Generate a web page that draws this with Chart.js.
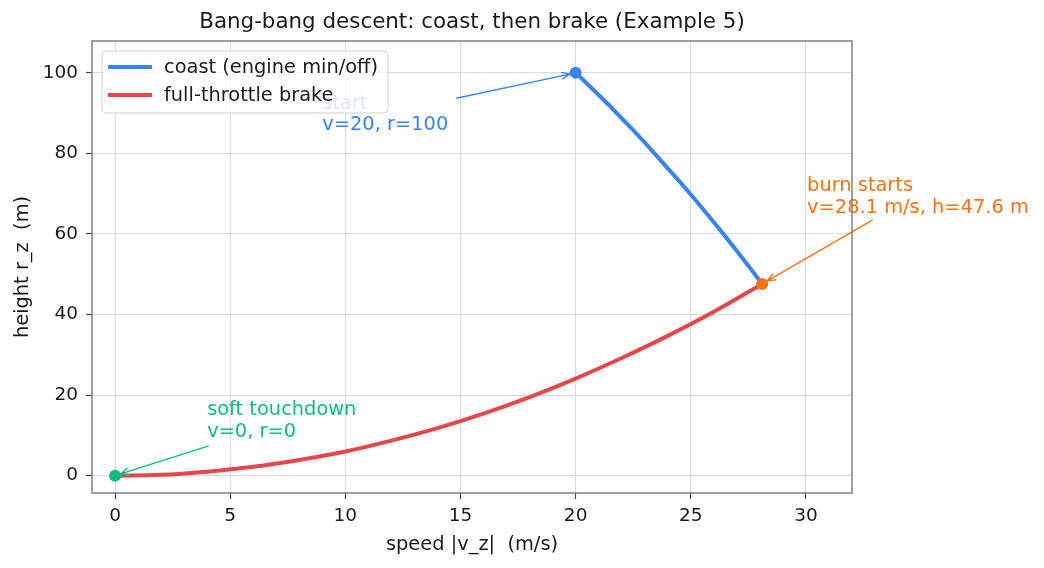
<!DOCTYPE html>
<html>
<head>
<meta charset="utf-8">
<script src="https://cdn.jsdelivr.net/npm/chart.js@4.4.1/dist/chart.umd.min.js"></script>
<style>
html,body{margin:0;padding:0;background:#fff;}
#wrap{width:1044px;height:568px;}
</style>
</head>
<body>
<div id="wrap"><canvas id="c" width="1044" height="568"></canvas></div>
<script>
// ---- data ----
const coastV = [20, 20.5, 21, 21.5, 22, 22.5, 23, 23.5, 24, 24.5, 25, 25.5, 26, 26.5, 27, 27.5, 28.1];
const coastR = [100, 97.3, 94.5, 91.7, 88.7, 85.8, 82.7, 79.5, 76.3, 73.1, 69.8, 66.4, 62.9, 59.4, 55.8, 52.1, 47.6];
const brakeV = [0, 2, 4, 6, 8, 10, 12, 14, 16, 18, 20, 22, 24, 26, 28.1];
const brakeR = [0, 0.2, 1.0, 2.2, 3.9, 6.0, 8.7, 11.8, 15.4, 19.5, 24.1, 29.2, 34.7, 40.7, 47.6];
const startPt = [20, 100];
const burnPt = [28.1, 47.6];
const touchPt = [0, 0];
const xTicks = [0, 5, 10, 15, 20, 25, 30];
const yTicks = [0, 20, 40, 60, 80, 100];
const seriesLabels = ['coast (engine min/off)', 'full-throttle brake'];
const titleText = 'Bang-bang descent: coast, then brake (Example 5)';

const BLUE = '#3b82f6', RED = '#e5484a', ORANGE = '#f97316', GREEN = '#10b981';
const FONT = "'DejaVu Sans', sans-serif";

const pts = (xs, ys) => xs.map((x, i) => ({x: x, y: ys[i]}));

// annotations: text anchor (data), arrow tail (data), arrow head target (data)
const annotations = [
  {lines: ['start', 'v=20, r=100'], at: [9, 85.8], from: [14.82, 93.7], to: startPt, color: BLUE},
  {lines: ['burn starts', 'v=28.1 m/s, h=47.6 m'], at: [30.05, 65.3], from: [32.9, 63.5], to: burnPt, color: ORANGE},
  {lines: ['soft touchdown', 'v=0, r=0'], at: [4, 9.7], from: [4.07, 7.4], to: touchPt, color: GREEN}
];

const annotPlugin = {
  id: 'annot',
  afterDatasetsDraw(chart) {
    const {ctx, scales: {x, y}} = chart;
    ctx.save();
    ctx.font = '19.4px ' + FONT;
    annotations.forEach(a => {
      ctx.fillStyle = a.color;
      ctx.textBaseline = 'alphabetic';
      ctx.textAlign = 'left';
      const px = x.getPixelForValue(a.at[0]);
      const py = y.getPixelForValue(a.at[1]);
      const lh = 21.5;
      a.lines.forEach((t, i) => {
        ctx.fillText(t, px, py - (a.lines.length - 1 - i) * lh);
      });
      // arrow
      const x0 = x.getPixelForValue(a.from[0]), y0 = y.getPixelForValue(a.from[1]);
      let x1 = x.getPixelForValue(a.to[0]), y1 = y.getPixelForValue(a.to[1]);
      const dx = x1 - x0, dy = y1 - y0, L = Math.hypot(dx, dy);
      const ux = dx / L, uy = dy / L;
      x1 -= ux * 6; y1 -= uy * 6;
      ctx.strokeStyle = a.color;
      ctx.lineWidth = 1.4;
      ctx.beginPath();
      ctx.moveTo(x0, y0); ctx.lineTo(x1, y1);
      const hl = 9, ang = 0.4;
      const bx = -ux, by = -uy;
      ctx.moveTo(x1 + hl * (bx * Math.cos(ang) - by * Math.sin(ang)), y1 + hl * (bx * Math.sin(ang) + by * Math.cos(ang)));
      ctx.lineTo(x1, y1);
      ctx.lineTo(x1 + hl * (bx * Math.cos(-ang) - by * Math.sin(-ang)), y1 + hl * (bx * Math.sin(-ang) + by * Math.cos(-ang)));
      ctx.stroke();
    });
    ctx.restore();
  },
  afterDraw(chart) {
    const {ctx, chartArea: ca} = chart;
    ctx.save();
    // frame
    ctx.strokeStyle = '#808080';
    ctx.lineWidth = 1.5;
    ctx.strokeRect(ca.left, ca.top, ca.right - ca.left, ca.bottom - ca.top);
    // title
    ctx.fillStyle = '#1a1a1a';
    ctx.font = '21.4px ' + FONT;
    ctx.textAlign = 'center';
    ctx.textBaseline = 'middle';
    ctx.fillText(titleText, (ca.left + ca.right) / 2, 22);
    // legend
    const lx = 102, ly = 51, lw = 286, lhgt = 62, r = 4;
    ctx.beginPath();
    ctx.moveTo(lx + r, ly);
    ctx.arcTo(lx + lw, ly, lx + lw, ly + lhgt, r);
    ctx.arcTo(lx + lw, ly + lhgt, lx, ly + lhgt, r);
    ctx.arcTo(lx, ly + lhgt, lx, ly, r);
    ctx.arcTo(lx, ly, lx + lw, ly, r);
    ctx.closePath();
    ctx.fillStyle = 'rgba(255,255,255,0.8)';
    ctx.fill();
    ctx.strokeStyle = '#d0d0d0';
    ctx.lineWidth = 1;
    ctx.stroke();
    const cols = [BLUE, RED];
    ctx.font = '19.4px ' + FONT;
    ctx.textAlign = 'left';
    ctx.textBaseline = 'middle';
    seriesLabels.forEach((t, i) => {
      const yy = 67 + i * 28;
      ctx.strokeStyle = cols[i];
      ctx.lineWidth = 4;
      ctx.beginPath(); ctx.moveTo(108, yy); ctx.lineTo(152, yy); ctx.stroke();
      ctx.fillStyle = '#1a1a1a';
      ctx.fillText(t, 164, yy + 1);
    });
    ctx.restore();
  }
};

new Chart(document.getElementById('c'), {
  type: 'scatter',
  data: {
    datasets: [
      {label: seriesLabels[0], data: pts(coastV, coastR), showLine: true, borderColor: BLUE, borderWidth: 4, pointRadius: 0, tension: 0, order: 3},
      {label: seriesLabels[1], data: pts(brakeV, brakeR), showLine: true, borderColor: RED, borderWidth: 4, pointRadius: 0, cubicInterpolationMode: 'monotone', order: 2},
      {label: 'start', data: [{x: startPt[0], y: startPt[1]}], pointRadius: 6, backgroundColor: BLUE, borderWidth: 0, order: 1},
      {label: 'burn', data: [{x: burnPt[0], y: burnPt[1]}], pointRadius: 6, backgroundColor: ORANGE, borderWidth: 0, order: 1},
      {label: 'touch', data: [{x: touchPt[0], y: touchPt[1]}], pointRadius: 6, backgroundColor: GREEN, borderWidth: 0, order: 1}
    ]
  },
  options: {
    responsive: false,
    animation: false,
    devicePixelRatio: 1,
    layout: {padding: {top: 41, right: 192, left: 0, bottom: 0}},
    plugins: {legend: {display: false}, tooltip: {enabled: false}, title: {display: false}},
    scales: {
      x: {
        type: 'linear', min: -1, max: 32,
        afterBuildTicks: s => { s.ticks = xTicks.map(v => ({value: v})); },
        afterFit: s => { s.height = 75; },
        grid: {color: '#d9d9d9', lineWidth: 1, drawTicks: true, tickLength: 6, tickColor: '#444', tickWidth: 1.2},
        border: {display: false},
        ticks: {color: '#1a1a1a', font: {family: FONT, size: 18.5}, padding: 6, maxRotation: 0},
        title: {display: true, text: 'speed |v_z|  (m/s)', color: '#1a1a1a', font: {family: FONT, size: 19.4}, padding: {top: 0, bottom: 11}}
      },
      y: {
        type: 'linear', min: -4.3, max: 107.9,
        afterBuildTicks: s => { s.ticks = yTicks.map(v => ({value: v})); },
        afterFit: s => { s.width = 92; },
        grid: {color: '#d9d9d9', lineWidth: 1, drawTicks: true, tickLength: 6, tickColor: '#444', tickWidth: 1.2},
        border: {display: false},
        ticks: {color: '#1a1a1a', font: {family: FONT, size: 18.5}, padding: 8},
        title: {display: true, text: 'height r_z  (m)', color: '#1a1a1a', font: {family: FONT, size: 19.4}, padding: {top: 11, bottom: 0}}
      }
    }
  },
  plugins: [annotPlugin]
});
</script>
</body>
</html>
